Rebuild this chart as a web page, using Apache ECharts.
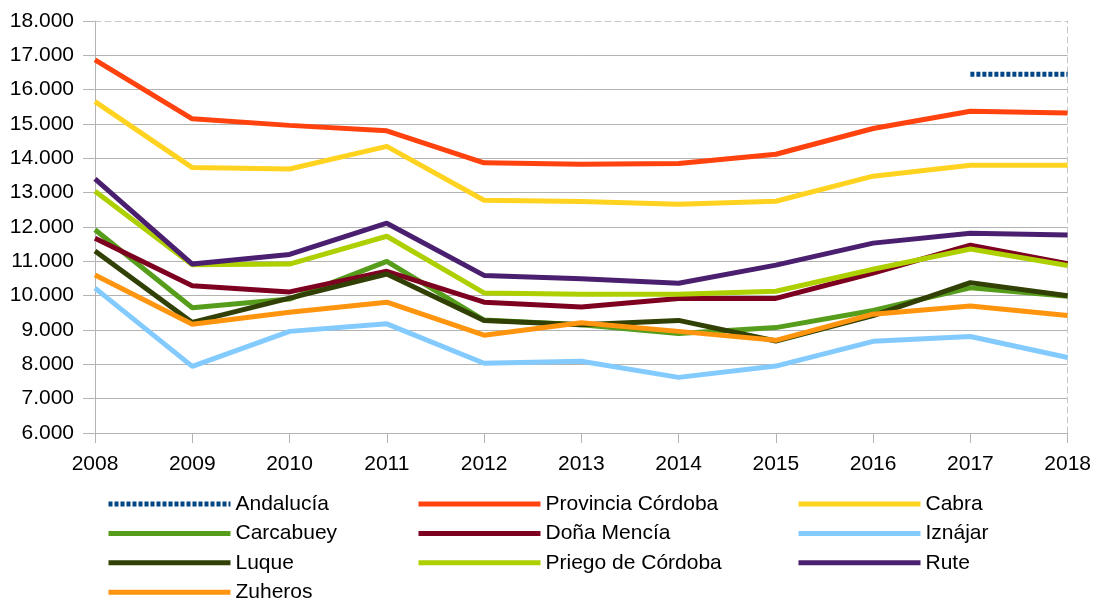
<!DOCTYPE html>
<html>
<head>
<meta charset="utf-8">
<script src="https://cdn.jsdelivr.net/npm/echarts@6/dist/echarts.min.js"></script>
<style>
  html, body { margin: 0; padding: 0; background: #fff; }
  #chart { width: 1094px; height: 599px; }
</style>
</head>
<body>
<div id="chart"></div>
<script>
const years = ['2008', '2009', '2010', '2011', '2012', '2013', '2014', '2015', '2016', '2017', '2018']

// valores
const andalucia = [null, null, null, null, null, null, null, null, null, 16450, 16450]
const provCordoba = [16870, 15150, 14960, 14800, 13870, 13830, 13850, 14120, 14870, 15370, 15320]
const cabra = [15650, 13730, 13690, 14350, 12780, 12740, 12660, 12750, 13480, 13800, 13800]
const carcabuey = [11920, 9650, 9900, 11000, 9290, 9150, 8900, 9070, 9570, 10230, 9980]
const donaMencia = [11670, 10290, 10110, 10710, 9810, 9670, 9920, 9920, 10660, 11470, 10930]
const iznajar = [10220, 7940, 8960, 9180, 8030, 8090, 7620, 7950, 8670, 8810, 8200]
const luque = [11300, 9220, 9930, 10630, 9280, 9150, 9280, 8680, 9420, 10380, 10000]
const priego = [13040, 10900, 10920, 11730, 10080, 10040, 10040, 10130, 10770, 11360, 10880]
const rute = [13400, 10920, 11200, 12110, 10590, 10490, 10360, 10890, 11530, 11820, 11770]
const zuheros = [10600, 9170, 9520, 9810, 8850, 9210, 8960, 8700, 9460, 9700, 9420]

const names = ['Andalucía', 'Provincia Córdoba', 'Cabra', 'Carcabuey', 'Doña Mencía',
  'Iznájar', 'Luque', 'Priego de Córdoba', 'Rute', 'Zuheros']
const values = [andalucia, provCordoba, cabra, carcabuey, donaMencia,
  iznajar, luque, priego, rute, zuheros]
const colors = ['#004586', '#ff420e', '#ffd320', '#579d1c', '#7e0021',
  '#83caff', '#314004', '#aecf00', '#4b1f6f', '#ff950e']

const gridColor = '#b3b3b3'
const font = 'Liberation Sans'

function fmt(v) {
  const k = Math.floor(v / 1000)
  const r = String(v % 1000).padStart(3, '0')
  return k + '.' + r
}

const series = names.map((name, i) => ({
  name: name,
  type: 'line',
  data: values[i],
  symbol: 'none',
  connectNulls: false,
  lineStyle: {
    width: 5,
    color: colors[i],
    type: i === 0 ? [4, 2] : 'solid'
  },
  itemStyle: { color: colors[i] },
  emphasis: { disabled: true }
}))

function legendCol(left, data) {
  return {
    orient: 'vertical',
    left: left,
    top: 487,
    height: 130,
    data: data,
    itemWidth: 122,
    itemHeight: 14,
    itemGap: 5.4,
    selectedMode: false,
    lineStyle: { width: 5 },
    itemStyle: { opacity: 0 },
    textStyle: { fontFamily: font, fontSize: 21, color: '#000', lineHeight: 24 }
  }
}

const chart = echarts.init(document.getElementById('chart'))
chart.setOption({
  animation: false,
  color: colors,
  grid: { left: 95, right: 26, top: 21, bottom: 166 },
  legend: [
    legendCol(101, ['Andalucía', 'Carcabuey', 'Luque', 'Zuheros']),
    legendCol(411, ['Provincia Córdoba', 'Doña Mencía', 'Priego de Córdoba']),
    legendCol(791, ['Cabra', 'Iznájar', 'Rute'])
  ],
  xAxis: [{
    type: 'category',
    data: years,
    boundaryGap: false,
    axisLine: { lineStyle: { color: gridColor, width: 1 } },
    axisTick: { show: true, length: 10, lineStyle: { color: gridColor } },
    axisLabel: { margin: 21, fontFamily: font, fontSize: 21, color: '#000' },
    splitLine: { show: false }
  }, {
    type: 'category',
    data: years,
    position: 'top',
    boundaryGap: false,
    axisLine: { lineStyle: { color: '#c8c8c8', type: [6, 4] } },
    axisTick: { show: false },
    axisLabel: { show: false },
    splitLine: { show: false }
  }],
  yAxis: [{
    type: 'value',
    min: 6000,
    max: 18000,
    interval: 1000,
    axisLine: { show: true, lineStyle: { color: gridColor } },
    axisTick: { show: true, length: 12, lineStyle: { color: gridColor } },
    axisLabel: { margin: 21, fontFamily: font, fontSize: 21, color: '#000', formatter: fmt },
    splitLine: { show: true, showMaxLine: false, lineStyle: { color: gridColor } }
  }, {
    type: 'value',
    position: 'right',
    min: 6000,
    max: 18000,
    interval: 1000,
    axisLine: { show: true, lineStyle: { color: '#c8c8c8', type: [6, 4] } },
    axisTick: { show: false },
    axisLabel: { show: false },
    splitLine: { show: false }
  }],
  series: series
})
</script>
</body>
</html>
